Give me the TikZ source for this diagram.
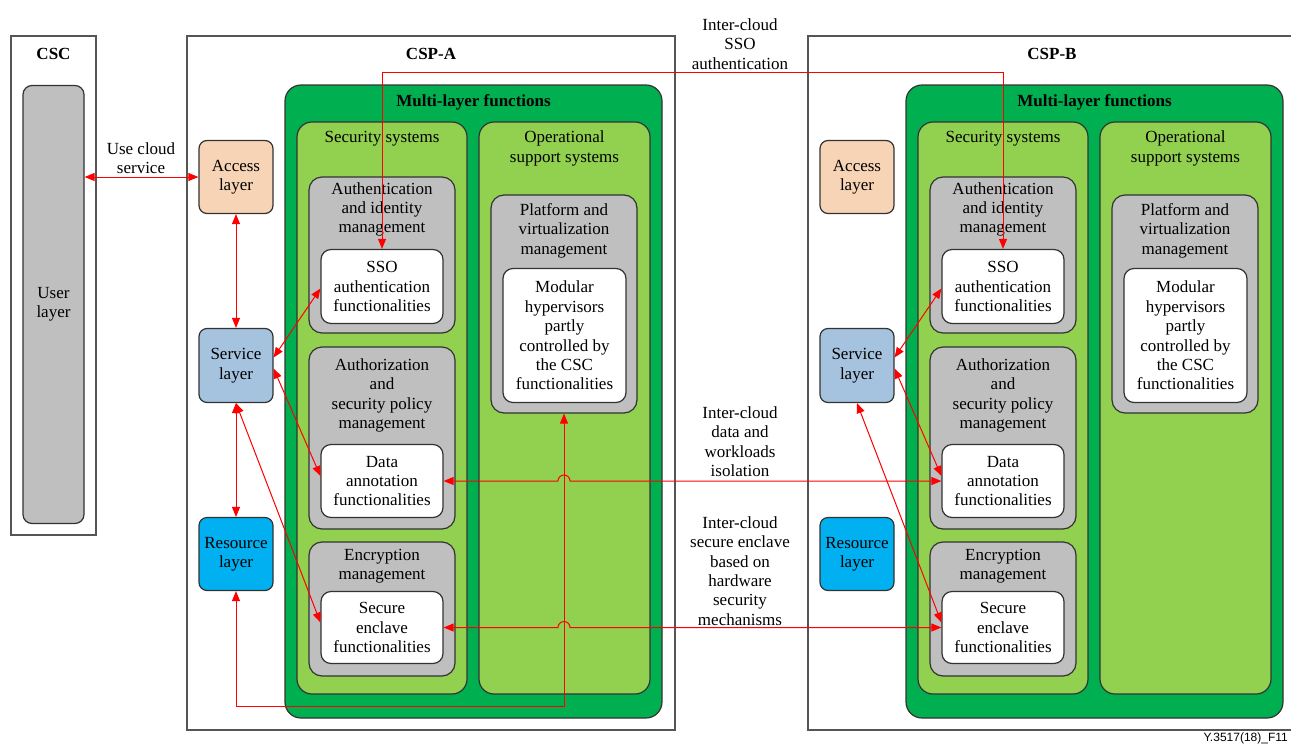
\documentclass[tikz,border=0pt]{standalone}
\usepackage{fontspec}
\setmainfont{Liberation Serif}
\newfontfamily\figfont{Liberation Sans}
\usetikzlibrary{arrows.meta,calc}
\definecolor{bordc}{HTML}{333333}
\definecolor{framec}{HTML}{555555}
\definecolor{dgreen}{HTML}{00AF50}
\definecolor{lgreen}{HTML}{92D050}
\definecolor{grayc}{HTML}{BFBFBF}
\definecolor{accessc}{HTML}{F7D4B6}
\definecolor{servicec}{HTML}{A5C2DE}
\definecolor{resourcec}{HTML}{00B0F0}
\definecolor{arrc}{HTML}{FF0000}
\newcommand\drawcsp[2]{%
  \node[frame, minimum width=488pt, minimum height=694pt] (csp#1) at (431,383) {};
  \node[titlef] (cspt#1) at (431,54) {#2};
  \node[rbox=16pt, fill=dgreen, minimum width=377pt, minimum height=633pt] (ml#1) at (473.5,401.5) {};
  \node[titlef] (mlt#1) at (473.5,102) {Multi-layer functions};
  \node[rbox=15pt, fill=lgreen, minimum width=170pt, minimum height=572pt] (sec#1) at (382,408) {};
  \node[txt] (sect#1) at (382,139) {Security systems};
  \node[rbox=15pt, fill=lgreen, minimum width=171pt, minimum height=572pt] (ops#1) at (564.5,408) {};
  \node[txt] (opst#1) at (564.5,148.5) {Operational\\support systems};
  \node[rbox=13pt, fill=grayc, minimum width=146pt, minimum height=156pt] (auth#1) at (382,255) {};
  \node[txt] (autht#1) at (382,209.5) {Authentication\\and identity\\management};
  \node[rbox=10pt, fill=white, minimum width=122pt, minimum height=74pt, txt] (sso#1) at (382,286.5) {SSO\\authentication\\functionalities};
  \node[rbox=13pt, fill=grayc, minimum width=146pt, minimum height=182pt] (authz#1) at (382,438) {};
  \node[txt] (authzt#1) at (382,395.5) {Authorization\\and\\security policy\\management};
  \node[rbox=10pt, fill=white, minimum width=122pt, minimum height=73pt, txt] (data#1) at (382,481) {Data\\annotation\\functionalities};
  \node[rbox=13pt, fill=grayc, minimum width=146pt, minimum height=134pt] (enc#1) at (382,609) {};
  \node[txt] (enct#1) at (382,566) {Encryption\\management};
  \node[rbox=10pt, fill=white, minimum width=122pt, minimum height=72pt, txt] (sec#1) at (382,627.5) {Secure\\enclave\\functionalities};
  \node[rbox=13pt, fill=grayc, minimum width=146pt, minimum height=218pt] (plat#1) at (564,304) {};
  \node[txt] (platt#1) at (564,230.5) {Platform and\\virtualization\\management};
  \node[rbox=10pt, fill=white, minimum width=123pt, minimum height=134pt, txt] (mod#1) at (564.5,335.5) {Modular\\hypervisors\\partly\\controlled by\\the CSC\\functionalities};
  \node[rbox=8pt, fill=accessc, minimum width=74pt, minimum height=73pt, txt] (acc#1) at (236,177) {Access\\layer};
  \node[rbox=8pt, fill=servicec, minimum width=74pt, minimum height=74pt, txt] (srv#1) at (236,365.5) {Service\\layer};
  \node[rbox=8pt, fill=resourcec, minimum width=74pt, minimum height=73pt, txt] (res#1) at (236,554) {Resource\\layer};
}
\begin{document}
\begin{tikzpicture}[x=1pt,y=-1pt,
  font=\fontsize{17}{19.4}\selectfont,
  txt/.style={align=center, inner sep=0pt},
  titlef/.style={font=\fontsize{17}{19.4}\selectfont\bfseries, inner sep=0pt},
  frame/.style={draw=framec, line width=1.2pt, fill=white, inner sep=0pt},
  rbox/.style={draw=bordc, line width=1.2pt, rounded corners=#1, inner sep=0pt},
  rbox/.default=10pt,
  arr/.style={draw=arrc, line width=1pt, {Triangle[length=10pt,width=8pt]}-{Triangle[length=10pt,width=8pt]}}]
\useasboundingbox (0,0) rectangle (1291,745);
\fill[white] (0,0) rectangle (1291,745);
% CSC
\node[frame, minimum width=85pt, minimum height=499pt] (csc) at (53.5,285.5) {};
\node[titlef] (csct) at (53.5,54) {CSC};
\node[rbox=9pt, fill=grayc, minimum width=61pt, minimum height=438pt, txt] (user) at (53.5,304.5) {User\\layer};
% CSP-A and CSP-B
\drawcsp{A}{CSP-A}
\begin{scope}[xshift=621pt]
\drawcsp{B}{CSP-B}
\end{scope}
% free text labels
\node[txt] (lbluse) at (141,158) {Use cloud\\service};
\node[txt] (lblsso) at (740,44) {Inter-cloud\\SSO\\authentication};
\node[txt] (lbldata) at (740,441.5) {Inter-cloud\\data and\\workloads\\isolation};
\node[txt] (lblenc) at (740,571) {Inter-cloud\\secure enclave\\based on\\hardware\\security\\mechanisms};
\node[anchor=base east, font=\figfont\fontsize{12}{14}\selectfont, inner sep=0pt] (figid) at (1288,741.5) {Y.3517(18)\_F11};
% connectors CSP-A
\draw[arr] (user.east |- accA.west) -- (accA.west);
\draw[arr] (accA.south) -- (srvA.north);
\draw[arr] (srvA.south) -- (resA.north);
\draw[arr] ([yshift=8pt]srvA.east) -- ([yshift=-2pt]ssoA.west);
\draw[arr] ([yshift=-3pt]srvA.east) -- ([yshift=5pt]dataA.west);
\draw[arr] (srvA.south) -- ([yshift=5pt]secA.west);
\coordinate (bendA) at (564,706);
\draw[arr] (resA.south) |- (bendA) -- (platA.south);
% connectors CSP-B
\draw[arr] ([yshift=8pt]srvB.east) -- ([yshift=-2pt]ssoB.west);
\draw[arr] ([yshift=-3pt]srvB.east) -- ([yshift=5pt]dataB.west);
\draw[arr] (srvB.south) -- ([yshift=5pt]secB.west);
% inter-cloud
\coordinate (ssoL) at (382,72);
\coordinate (ssoR) at (1003,72);
\draw[arr] (ssoA.north) -- (ssoL) -- (ssoR) -- (ssoB.north);
\draw[arr] (dataA.east) -- ([xshift=-6pt]platA.south |- dataA.east) arc[start angle=180,end angle=0,radius=6pt] -- (dataB.west);
\draw[arr] (secA.east) -- ([xshift=-6pt]platA.south |- secA.east) arc[start angle=180,end angle=0,radius=6pt] -- (secB.west);
\end{tikzpicture}
\end{document}
